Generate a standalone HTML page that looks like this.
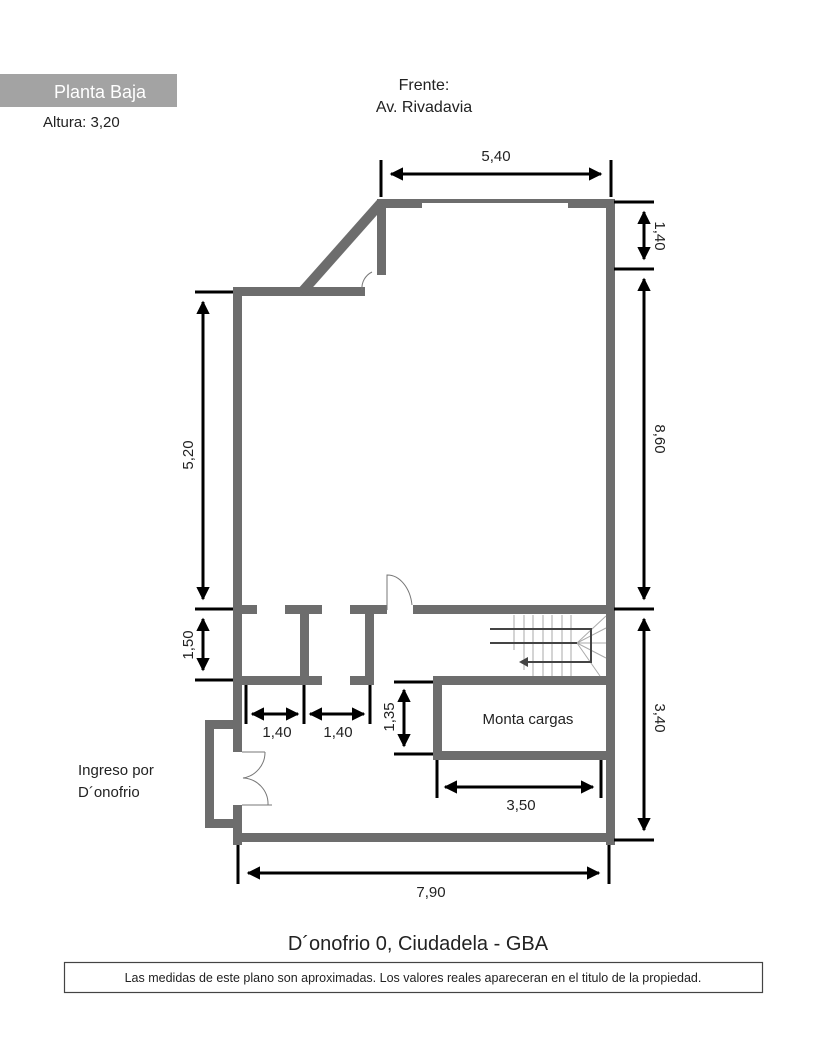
<!DOCTYPE html>
<html><head><meta charset="utf-8"><style>
html,body{margin:0;padding:0;background:#fff;}
svg{display:block;}
text{font-family:"Liberation Sans",sans-serif;}
</style></head><body>
<svg width="828" height="1040" viewBox="0 0 828 1040" xmlns="http://www.w3.org/2000/svg">
<defs>
<marker id="a" viewBox="0 0 10 10" refX="9" refY="5" markerWidth="4.5" markerHeight="4.5" orient="auto-start-reverse" markerUnits="strokeWidth"><path d="M0,0 L10,5 L0,10 z" fill="#000"/></marker>
</defs>
<rect x="0" y="74" width="177" height="33" fill="#a3a3a3"/>
<text x="100" y="98" font-size="18" fill="#fff" text-anchor="middle">Planta Baja</text>
<text x="43" y="127" font-size="15" fill="#222">Altura: 3,20</text>
<text x="424" y="90" font-size="16" fill="#222" text-anchor="middle">Frente:</text>
<text x="424" y="112" font-size="16" fill="#222" text-anchor="middle">Av. Rivadavia</text>

<g fill="#6d6d6d">
<rect x="377" y="199" width="45" height="9"/>
<rect x="568" y="199" width="46" height="9"/>
<rect x="422" y="199" width="146" height="4"/>
<rect x="606" y="199" width="9" height="646"/>
<rect x="233" y="287" width="9" height="465"/>
<rect x="233" y="805" width="9" height="40"/>
<rect x="233" y="833" width="382" height="9"/>
<rect x="377" y="199" width="9" height="76"/>
<rect x="233" y="287" width="132" height="9"/>
<rect x="233" y="605" width="24" height="9"/>
<rect x="285" y="605" width="37" height="9"/>
<rect x="350" y="605" width="37" height="9"/>
<rect x="413" y="605" width="202" height="9"/>
<rect x="300" y="605" width="9" height="80"/>
<rect x="365" y="605" width="9" height="80"/>
<rect x="233" y="676" width="89" height="9"/>
<rect x="350" y="676" width="24" height="9"/>
<rect x="433" y="676" width="182" height="9"/>
<rect x="433" y="676" width="9" height="84"/>
<rect x="433" y="751" width="182" height="9"/>
<rect x="205" y="720" width="37" height="9"/>
<rect x="205" y="720" width="9" height="108"/>
<rect x="205" y="819" width="37" height="9"/>
</g>
<line x1="381" y1="203" x2="302" y2="292" stroke="#6d6d6d" stroke-width="10"/>
<g fill="none" stroke="#777" stroke-width="1">
<path d="M387,610 L387,575 A25,35 0 0 1 412,605"/>
<path d="M372,272 A18,18 0 0 0 362,290"/>
<path d="M242,752 L265,752 M242,805 L272,805 M265,752 A26,26 0 0 1 243,778 A26,26 0 0 1 268,805"/>
</g>
<g stroke="#aaa" stroke-width="1">
<line x1="514" y1="615" x2="514" y2="650"/><line x1="524" y1="615" x2="524" y2="670"/><line x1="533" y1="615" x2="533" y2="676"/><line x1="543" y1="615" x2="543" y2="676"/><line x1="552" y1="615" x2="552" y2="676"/><line x1="562" y1="615" x2="562" y2="676"/><line x1="571" y1="615" x2="571" y2="676"/>
<line x1="577" y1="643" x2="606" y2="616"/><line x1="577" y1="643" x2="606" y2="628"/><line x1="577" y1="643" x2="606" y2="643"/><line x1="577" y1="643" x2="606" y2="658"/><line x1="577" y1="643" x2="600" y2="676"/>
</g>
<g stroke="#444" stroke-width="2" fill="none">
<path d="M490,629 L591,629 L591,662 L525,662"/>
<line x1="490" y1="643" x2="577" y2="643"/>
</g>
<path d="M519,662 L528,657 L528,667 z" fill="#444"/>
<text x="528" y="724" font-size="15" fill="#222" text-anchor="middle">Monta cargas</text>

<g stroke="#000" stroke-width="3" fill="none">
<line x1="381" y1="160" x2="381" y2="197"/><line x1="611" y1="160" x2="611" y2="197"/>
<line x1="391" y1="174" x2="601" y2="174" marker-start="url(#a)" marker-end="url(#a)"/>
<line x1="614" y1="202" x2="654" y2="202"/><line x1="614" y1="269" x2="654" y2="269"/><line x1="614" y1="609" x2="654" y2="609"/><line x1="614" y1="840" x2="654" y2="840"/>
<line x1="644" y1="212" x2="644" y2="259" marker-start="url(#a)" marker-end="url(#a)"/>
<line x1="644" y1="279" x2="644" y2="599" marker-start="url(#a)" marker-end="url(#a)"/>
<line x1="644" y1="619" x2="644" y2="830" marker-start="url(#a)" marker-end="url(#a)"/>
<line x1="195" y1="292" x2="233" y2="292"/><line x1="195" y1="609" x2="233" y2="609"/><line x1="195" y1="680" x2="233" y2="680"/>
<line x1="203" y1="302" x2="203" y2="599" marker-start="url(#a)" marker-end="url(#a)"/>
<line x1="203" y1="619" x2="203" y2="670" marker-start="url(#a)" marker-end="url(#a)"/>
<line x1="246" y1="685" x2="246" y2="724"/><line x1="304" y1="685" x2="304" y2="724"/><line x1="370" y1="685" x2="370" y2="724"/>
<line x1="252" y1="714" x2="298" y2="714" marker-start="url(#a)" marker-end="url(#a)"/>
<line x1="310" y1="714" x2="364" y2="714" marker-start="url(#a)" marker-end="url(#a)"/>
<line x1="394" y1="682" x2="433" y2="682"/><line x1="394" y1="754" x2="433" y2="754"/>
<line x1="404" y1="690" x2="404" y2="746" marker-start="url(#a)" marker-end="url(#a)"/>
<line x1="437" y1="760" x2="437" y2="798"/><line x1="601" y1="760" x2="601" y2="798"/>
<line x1="445" y1="787" x2="593" y2="787" marker-start="url(#a)" marker-end="url(#a)"/>
<line x1="238" y1="845" x2="238" y2="884"/><line x1="609" y1="845" x2="609" y2="884"/>
<line x1="248" y1="873" x2="599" y2="873" marker-start="url(#a)" marker-end="url(#a)"/>
</g>
<g font-size="15" fill="#222" text-anchor="middle">
<text x="496" y="161">5,40</text>
<text x="277" y="737">1,40</text>
<text x="338" y="737">1,40</text>
<text x="521" y="810">3,50</text>
<text x="431" y="897">7,90</text>
<text transform="translate(655,236) rotate(90)">1,40</text>
<text transform="translate(655,439) rotate(90)">8,60</text>
<text transform="translate(655,718) rotate(90)">3,40</text>
<text transform="translate(193,455) rotate(-90)">5,20</text>
<text transform="translate(193,645) rotate(-90)">1,50</text>
<text transform="translate(394,717) rotate(-90)">1,35</text>
</g>
<text x="78" y="775" font-size="15" fill="#222">Ingreso por</text>
<text x="78" y="797" font-size="15" fill="#222">D´onofrio</text>
<text x="418" y="950" font-size="20" fill="#222" text-anchor="middle">D´onofrio 0, Ciudadela - GBA</text>
<rect x="64.5" y="962.5" width="698" height="30" fill="none" stroke="#444" stroke-width="1.2"/>
<text x="413" y="982" font-size="12.5" fill="#222" text-anchor="middle">Las medidas de este plano son aproximadas. Los valores reales apareceran en el titulo de la propiedad.</text>
</svg>
</body></html>
